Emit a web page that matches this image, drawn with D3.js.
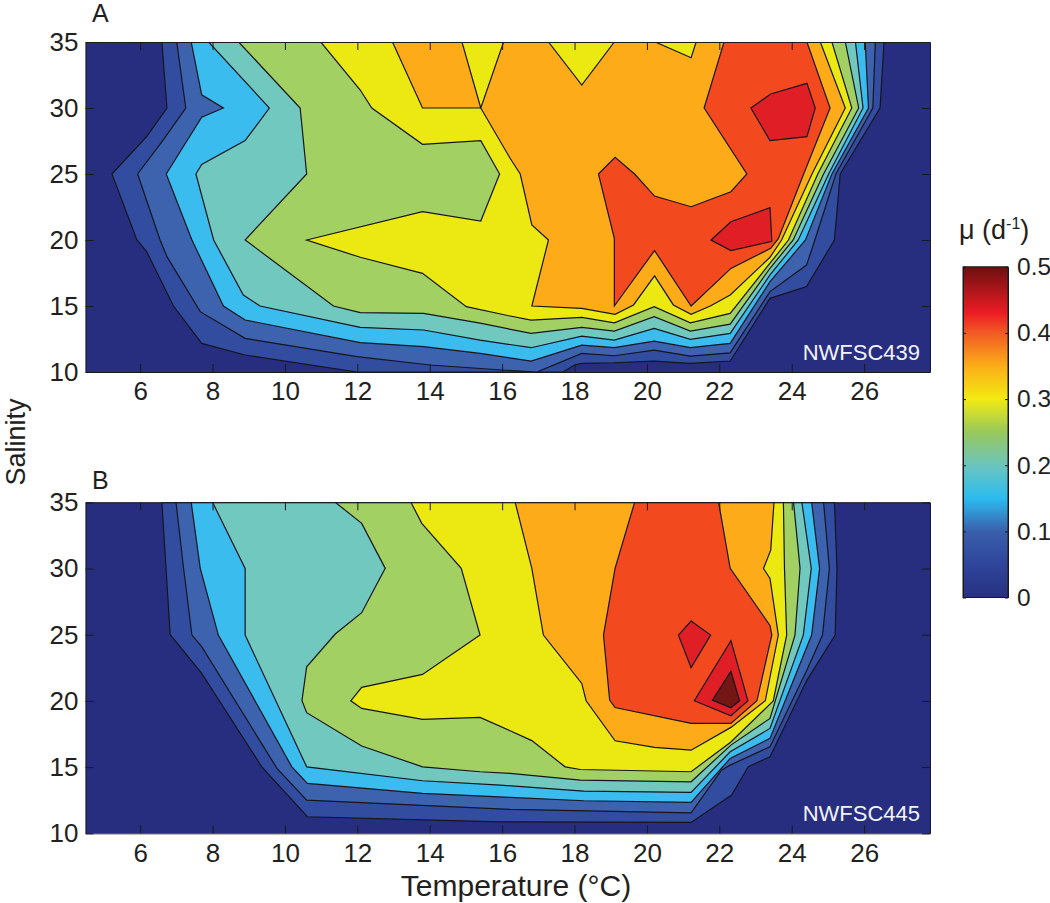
<!DOCTYPE html>
<html>
<head>
<meta charset="utf-8">
<script src="https://cdn.jsdelivr.net/npm/d3@7"></script>
<style>
body { margin: 0; background: #fff; }
text { font-family: "Liberation Sans", Arial, sans-serif; fill: #231f20; }
</style>
</head>
<body>
<svg width="1050" height="903"></svg>
<script>
// contour levels of growth rate (d-1) and the colour of each filled band
const levels = [0, 0.05, 0.1, 0.15, 0.2, 0.25, 0.3, 0.35, 0.4, 0.45, 0.5];
const levelColors = ['#272e80', '#324c9f', '#3d63ae', '#3abcee', '#70c8bf', '#a2d062', '#ebe812', '#fdab19', '#f3491f', '#e01e26', '#731614'];

const xTicks = [6, 8, 10, 12, 14, 16, 18, 20, 22, 24, 26];
const yTicks = [10, 15, 20, 25, 30, 35];
const barTicks = [0, 0.1, 0.2, 0.3, 0.4, 0.5];
const barStops = [0, 0.05, 0.1, 0.15, 0.2, 0.25, 0.3, 0.35, 0.4, 0.43, 0.5];
const barColors = ['#28307f', '#2f459b', '#3a5fab', '#2cbcf0', '#6bc5bd', '#98c85c', '#f2ea12', '#fbae18', '#f15a24', '#ed1c24', '#6b1010'];

// panel A, NWFSC439: contour rings as [temperature, salinity]
const a05 = [[[6.6,35],[6.74,30],[6.18,27.83],[5.22,25],[5.91,20],[6.18,19.12],[6.92,15],[7.7,12.17],[8.9,11.29],[11.99,10],[17.68,10],[18,10.53],[18.2,10.65],[19.1,10.7],[20.2,10.83],[21.2,10.65],[22.3,10.83],[23.4,15.58],[24.41,16.47],[25.18,20],[25.34,25],[26.44,30],[26.55,35]]];
const a10 = [[[7.01,35],[7.26,30],[6.64,27.58],[5.93,25],[6.55,20],[6.74,18.74],[7.66,14.57],[8.9,12.55],[11.99,11.16],[14.01,10.53],[15.99,10.15],[16.96,10],[18.2,11.41],[19.1,11.23],[20.2,11.66],[21.2,11.21],[22.3,11.45],[23.4,16.09],[24.41,18.1],[24.64,20],[25.22,25],[26.24,30],[26.31,35]]];
const a15 = [[[7.41,35],[7.7,31],[8.3,30],[7.7,29.3],[6.72,25],[7.43,20],[8.3,15],[8.9,13.94],[12.08,12.22],[13.83,11.92],[15.39,11.41],[16.8,10.83],[18.2,12.04],[19.1,11.84],[20.2,12.34],[21.2,11.84],[22.3,12.17],[23.4,16.85],[24.38,20],[25.11,25],[26.12,30],[26.03,35]]];
const a20 = [[[7.89,35],[9.57,30],[8.9,27.53],[7.7,25.73],[7.54,25],[8.03,20],[8.85,15.83],[9.31,15],[12.08,13.38],[13.83,13.18],[15.39,12.42],[16.8,11.84],[18.2,12.72],[19.1,12.42],[20.2,13.3],[21.2,12.47],[22.3,12.92],[23.4,17.35],[24.18,20],[25.02,25],[25.97,30],[25.76,35]]];
const a25 = [[[8.72,35],[10.42,30],[10.6,25],[8.9,20],[11.34,15],[12.08,14.5],[13.83,14.44],[15.39,13.7],[16.8,12.92],[18.2,13.38],[19.1,13.1],[20.2,14.19],[21.2,13.1],[22.3,13.63],[23.4,17.86],[24.04,20],[24.88,25],[25.85,30],[25.48,35]]];
const a30 = [[[10.99,35],[12.08,31.36],[12.4,30],[13.8,27.25],[15.41,27.53],[15.93,25],[15.41,21.44],[13.8,22.15],[10.6,20],[12.08,18.69],[13.8,17.47],[15.01,14.95],[16.22,14.24],[16.8,13.93],[18.2,14.14],[19.1,13.73],[20.2,14.95],[21.2,13.73],[22.3,14.44],[23.4,18.24],[23.91,20],[24.72,25],[25.66,30],[25.11,35]]];
const a35 = [
  [[12.97,35],[13.8,30],[15.41,30],[14.89,35]],
  [[16.04,35],[15.41,30],[16.22,26.19],[16.5,25],[16.82,21.14],[17.28,20],[16.82,15],[18.2,14.82],[19.12,14.37],[19.63,15.08],[20.21,17.28],[20.73,15.08],[21.22,14.37],[21.75,15],[22.3,15.84],[23.4,18.69],[23.72,20],[24.56,25],[25.48,30],[24.79,35],[21.36,35],[21.22,33.81],[20.23,35],[19.1,35],[18.2,31.74],[17.28,35]]
];
const a40 = [[[22.13,35],[21.58,30],[22.76,25],[22.32,23.66],[21.22,22.52],[20.21,23.33],[19.66,25],[19.12,26.26],[18.66,25],[19.1,20.1],[19.1,15],[20.21,19.2],[21.22,15],[22.32,17.85],[23.42,19.37],[23.63,20.1],[24.33,25],[25.06,30],[24.42,35]]];
const a45 = [
  [[22.87,30],[23.42,31.06],[24.42,31.87],[24.65,30],[24.42,27.83],[23.4,27.53]],
  [[21.77,20],[22.32,21.38],[23.4,22.45],[23.45,19.9],[22.32,19.2]]
];
const ringsA = [a05, a10, a15, a20, a25, a30, a35, a40, a45];

// panel B, NWFSC445
const b05 = [[[6.6,35],[6.83,25],[7.7,22.08],[9.36,15.02],[10.62,11.25],[15.95,10.87],[21.22,10.82],[22.34,12.89],[22.8,15.03],[23.4,15.78],[24.42,21.57],[25.2,24.97],[25.25,30],[25.18,35]]];
const b10 = [[[6.99,35],[7.2,30],[7.43,24.97],[7.7,24.1],[9.78,14.9],[10.6,12.5],[16.22,11.8],[21.22,11.55],[22.06,14.77],[22.3,15.15],[23.4,16.54],[24.42,22.33],[24.85,24.97],[25.04,30],[24.88,35]]];
const b15 = [[[7.41,35],[7.66,30.01],[8.16,24.97],[10.19,15.02],[10.62,13.77],[13.8,13.01],[16.22,12.71],[18.25,12.46],[21.22,12.33],[22.3,15.66],[23.4,17.17],[24.55,24.97],[24.77,30],[24.55,35]]];
const b20 = [[[8,35],[8.9,30.01],[8.9,24.97],[10.6,15.02],[13.8,13.97],[15.95,13.64],[18.25,13.19],[21.22,13.09],[22.3,16.16],[23.4,17.92],[24.32,24.97],[24.54,30],[24.28,35]]];
const b25 = [[[11.39,35],[12.12,33.41],[12.77,30.01],[12.12,26.66],[11.39,25.05],[10.6,22.58],[10.47,20.01],[10.6,19.11],[12.12,16.59],[13.8,15.02],[15.39,14.65],[16.22,14.52],[18.16,14.02],[21.22,13.89],[22.32,16.66],[23.4,18.68],[24.09,24.97],[24.23,30.01],[24.05,35]]];
const b30 = [[[13.48,35],[13.78,33.41],[14.87,30.01],[15.39,24.97],[13.8,22],[12.12,21.02],[11.82,20.01],[12.12,19.43],[13.8,18.6],[15.39,18.75],[16.22,17.75],[16.82,17],[17.74,15.02],[18.16,14.82],[21.22,14.65],[22.32,16.9],[23.49,20],[23.86,24.97],[23.8,30],[23.77,35]]];
const b35 = [[[16.36,35],[16.82,30.01],[17.14,24.97],[18.2,21.32],[18.32,20.01],[19.12,16.99],[20.21,16.49],[21.22,16.28],[22.32,18],[23.27,20.01],[23.63,24.97],[23.4,29.25],[23.22,30],[23.42,31.39],[23.51,35]]];
const b40 = [[[19.66,35],[19.12,30.01],[18.8,24.97],[18.97,20.06],[19.12,19.5],[21.22,18.3],[22.32,18.3],[23.04,20.01],[23.45,24.97],[23.4,25.7],[22.3,30.01],[21.98,35]]];
const b45 = [
  [[21.22,26.03],[21.76,24.97],[21.22,22.51],[20.87,24.97]],
  [[22.32,24.55],[22.79,20.01],[22.32,18.88],[21.31,20.01]]
];
const b50 = [[[22.32,22.25],[22.56,20.01],[22.32,19.48],[21.81,20.06]]];
const ringsB = [b05, b10, b15, b20, b25, b30, b35, b40, b45, b50];

var svg = d3.select('svg');
var left = 85.5, right = 930;

var xScale = d3.scaleLinear().domain([4.49, 27.82]).range([left, right]);

var defs = svg.append('defs');

function panel(id, top, bottom, rings, letter, letterY, strain) {
    var yScale = d3.scaleLinear().domain([10, 35]).range([bottom, top]);

    defs.append('clipPath').attr('id', id)
        .append('rect')
        .attr('x', left).attr('y', top)
        .attr('width', right - left).attr('height', bottom - top);

    var g = svg.append('g').attr('clip-path', 'url(#' + id + ')');

    g.append('rect')
        .attr('x', left).attr('y', top)
        .attr('width', right - left).attr('height', bottom - top)
        .attr('fill', levelColors[0]);

    var line = d3.line()
        .x(function(d) { return xScale(d[0]); })
        .y(function(d) { return yScale(d[1]); });

    rings.forEach(function(level, i) {
        g.selectAll('path.l' + i).data(level)
            .enter().append('path')
            .attr('class', 'l' + i)
            .attr('d', function(d) { return line(d) + 'Z'; })
            .attr('fill', levelColors[i + 1])
            .attr('stroke', '#15151f')
            .attr('stroke-width', 1.2)
            .attr('stroke-linejoin', 'miter');
    });

    // box with inward ticks on all four sides
    svg.append('g')
        .attr('class', 'ax')
        .attr('transform', 'translate(0,' + bottom + ')')
        .call(d3.axisBottom(xScale).tickValues(xTicks).tickSizeInner(-8).tickSizeOuter(0).tickPadding(10));
    svg.append('g')
        .attr('class', 'ax')
        .attr('transform', 'translate(0,' + top + ')')
        .call(d3.axisTop(xScale).tickValues(xTicks).tickFormat('').tickSizeInner(-8).tickSizeOuter(0));
    svg.append('g')
        .attr('class', 'ax')
        .attr('transform', 'translate(' + left + ',0)')
        .call(d3.axisLeft(yScale).tickValues(yTicks).tickSizeInner(-8).tickSizeOuter(0).tickPadding(7));
    svg.append('g')
        .attr('class', 'ax')
        .attr('transform', 'translate(' + right + ',0)')
        .call(d3.axisRight(yScale).tickValues(yTicks).tickFormat('').tickSizeInner(-8).tickSizeOuter(0));

    svg.append('text')
        .attr('x', 92).attr('y', letterY)
        .attr('font-size', 25)
        .text(letter);

    svg.append('text')
        .attr('x', 920).attr('y', bottom - 12)
        .attr('text-anchor', 'end')
        .attr('font-size', 22)
        .style('fill', '#f2f4fa')
        .text(strain);
}

panel('clipA', 42, 372, ringsA, 'A', 22, 'NWFSC439');
panel('clipB', 502.3, 833.3, ringsB, 'B', 489, 'NWFSC445');

svg.selectAll('.ax text').attr('font-size', 26).style('font-family', '"Liberation Sans", Arial, sans-serif');
svg.selectAll('.ax line, .ax path').attr('stroke', '#1a1a1a').attr('stroke-width', 1);

svg.append('text')
    .attr('x', 516).attr('y', 896)
    .attr('text-anchor', 'middle')
    .attr('font-size', 30)
    .text('Temperature (°C)');

svg.append('text')
    .attr('transform', 'translate(25,442) rotate(-90)')
    .attr('text-anchor', 'middle')
    .attr('font-size', 27)
    .text('Salinity');

// colour bar
var barY = d3.scaleLinear().domain([0, 0.5]).range([597.5, 266.8]);

var grad = defs.append('linearGradient')
    .attr('id', 'barGrad')
    .attr('x1', 0).attr('x2', 0).attr('y1', 1).attr('y2', 0);
barStops.forEach(function(s, i) {
    grad.append('stop').attr('offset', s / 0.5).attr('stop-color', barColors[i]);
});

svg.append('rect')
    .attr('x', 963).attr('y', barY(0.5))
    .attr('width', 45).attr('height', barY(0) - barY(0.5))
    .attr('fill', 'url(#barGrad)');

svg.append('g')
    .attr('class', 'bar')
    .attr('transform', 'translate(1008,0)')
    .call(d3.axisRight(barY).tickValues(barTicks).tickFormat(function(d) { return d === 0 ? '0' : d3.format('.1f')(d); }).tickSizeInner(-3).tickSizeOuter(0).tickPadding(9));
svg.append('g')
    .attr('class', 'bar')
    .attr('transform', 'translate(963,0)')
    .call(d3.axisLeft(barY).tickValues(barTicks).tickFormat('').tickSizeInner(-3).tickSizeOuter(0));
svg.append('rect')
    .attr('x', 963).attr('y', barY(0.5))
    .attr('width', 45).attr('height', barY(0) - barY(0.5))
    .attr('fill', 'none').attr('stroke', '#1a1a1a').attr('stroke-width', 1);

svg.selectAll('.bar text').attr('font-size', 24.5).style('font-family', '"Liberation Sans", Arial, sans-serif');
svg.selectAll('.bar line, .bar path').attr('stroke', '#1a1a1a');

var barLabel = svg.append('text')
    .attr('x', 959).attr('y', 239)
    .attr('font-size', 27);
barLabel.append('tspan').text('μ (d');
barLabel.append('tspan').attr('font-size', 16).attr('dy', -10).text('-1');
barLabel.append('tspan').attr('dy', 10).text(')');
</script>
</body>
</html>
